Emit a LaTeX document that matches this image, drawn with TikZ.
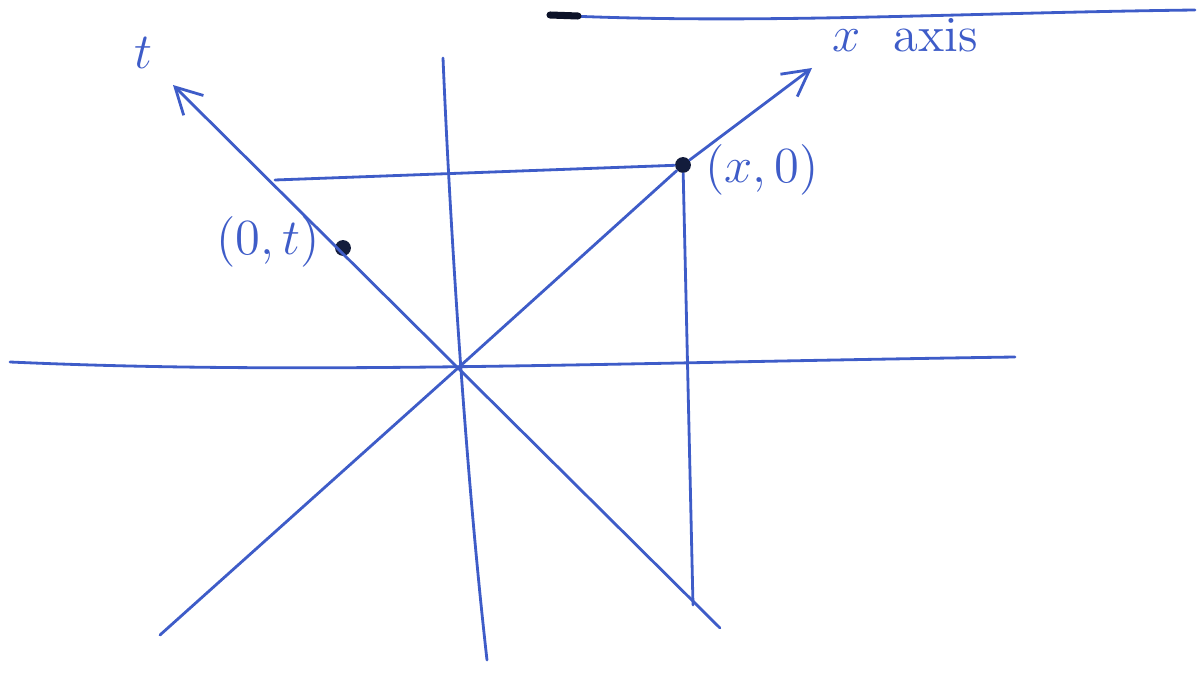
\documentclass[tikz,border=0pt]{standalone}
\usepackage{tikz}
\usetikzlibrary{arrows.meta,positioning,calc}

\definecolor{penblue}{RGB}{62,92,200}

\begin{document}
\begin{tikzpicture}[
    pen/.style={draw=penblue, line width=0.8pt, line cap=round},
    axisarrow/.style={pen, -{Straight Barb[length=2.6mm,width=2.8mm]}},
    dot/.style={circle, fill=black!70!penblue, inner sep=0pt, minimum size=4.5pt},
    lbl/.style={text=penblue, font=\Large},
]
    \useasboundingbox (0,0) rectangle (12,6.75);

    % origin and axis ends
    \coordinate (o) at (4.58,3.07);
    \coordinate (tend) at (1.73,5.90);
    \coordinate (tfoot) at (7.20,0.47);
    \coordinate (xend) at (8.12,6.07);
    \coordinate (xfoot) at (1.60,0.40);
    \coordinate (hl) at (0.10,3.13);
    \coordinate (hr) at (10.15,3.18);
    \coordinate (vt) at (4.43,6.17);
    \coordinate (vb) at (4.87,0.15);

    % the two marked points
    \node[dot] (px) at (6.83,5.10) {};
    \node[dot] (pt) at (3.43,4.27) {};
    \coordinate (proj) at (2.75,4.95);
    \coordinate (drop) at (6.93,0.70);

    % labels
    \node[lbl] (tlab) at (1.43,6.22) {$t$};
    \node[lbl] (xlab) at (9.05,6.40) {$x$ \ axis};
    \node[lbl] (pxlab) at (7.62,5.05) {$(x,0)$};
    \node[lbl] (ptlab) at (2.68,4.33) {$(0,t)$};

    % axes
    \draw[pen] (hl) .. controls (3,3.00) and (6,3.12) .. (hr);
    \draw[pen] (vt) .. controls (4.50,4.5) and (4.66,2) .. (vb);
    \draw[axisarrow] (tfoot) -- (o) -- (tend);
    \draw[axisarrow] (xfoot) -- (o) -- (px) -- (xend);

    % projections
    \draw[pen] (proj) -- (px);
    \draw[pen] (px) -- (drop);

    % line across the top
    \coordinate (topl) at (5.48,6.60);
    \coordinate (topr) at (11.95,6.65);
    \draw[pen] (topl) .. controls (7.5,6.5) and (9.5,6.62) .. (topr);
    \draw[draw=black!80!penblue, line width=2pt, line cap=round] (5.50,6.60) -- (5.78,6.59);
\end{tikzpicture}
\end{document}
